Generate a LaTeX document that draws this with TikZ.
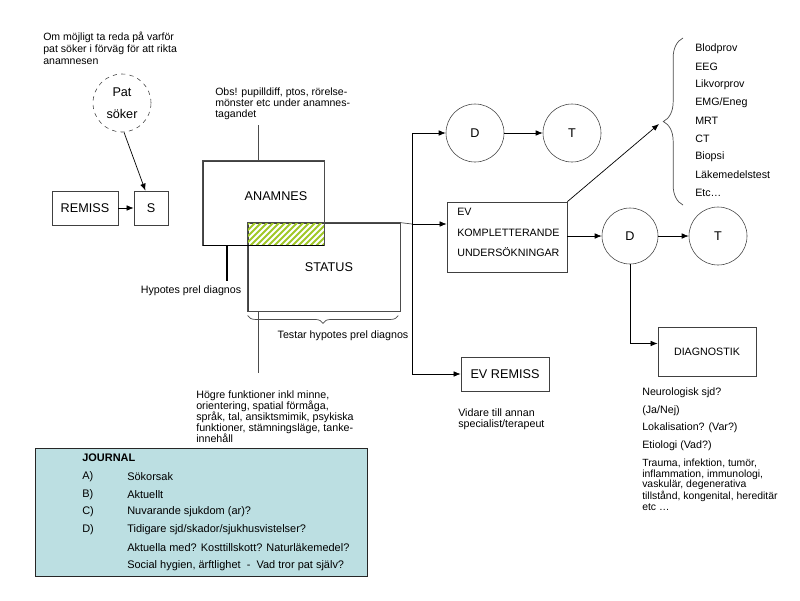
\documentclass[tikz,border=0pt]{standalone}
\usepackage{fontspec}
\setmainfont{Liberation Sans}
\usetikzlibrary{arrows.meta,decorations.pathreplacing}
\definecolor{journalfill}{RGB}{188,223,226}
\definecolor{hatchgreen}{RGB}{160,200,40}

\begin{document}
\begin{tikzpicture}[x=0.025cm,y=-0.025cm,
  small/.style={font=\fontsize{7.6}{8}\selectfont, inner sep=0pt, align=left},
  big/.style={font=\fontsize{9}{11}\selectfont, inner sep=0pt},
  box/.style={draw=black!75, line width=0.5pt, inner sep=0pt, font=\fontsize{9}{11}\selectfont},
  circ/.style={draw=black!75, circle, inner sep=0pt, minimum size=1.45cm, font=\fontsize{9}{11}\selectfont},
  line/.style={draw=black!70, line width=0.5pt},
  arr/.style={draw=black, line width=0.5pt, -{Latex[length=5pt,width=4pt]}}]
\useasboundingbox (0,0) rectangle (800,600);
% Left part: referral
\node[small, anchor=north west, font=\fontsize{7.5}{8.5}\selectfont] (aim) at (43,32)
  {Om möjligt ta reda på varför\\pat söker i förväg för att rikta\\anamnesen};
\node[circ, dashed, align=center, font=\fontsize{9}{16}\selectfont] (pat) at (122,103) {Pat\\söker};
\node[box, minimum width=1.65cm, minimum height=0.85cm] (remiss) at (85,208) {REMISS};
\node[box, minimum width=0.85cm, minimum height=0.85cm] (s) at (151,208) {S};
\draw[arr] (remiss) -- (s);
\draw[arr] (pat.south) ++(2,0) coordinate (patout) -- ([xshift=-4pt]s.north);
% Anamnes and status
\node[box, minimum width=3.025cm, minimum height=2.1cm] (anamnes) at (263.5,203) {};
\node[box, minimum width=3.8cm, minimum height=2.2cm] (status) at (324,267) {};
\begin{scope}
  \clip (status.north west) rectangle (anamnes.south east);
  \foreach \x in {220,226,...,330} \draw[hatchgreen, line width=1.3pt] (\x,246) -- ++(24,-24);
\end{scope}
\draw[line] (status.north west) rectangle (status.south east);
\draw[line] (anamnes.north west) rectangle (anamnes.south east);
\draw[black, line width=1.1pt] (anamnes.south west) -- (anamnes.south east);
\node[big] (anamneslbl) at (276,196) {ANAMNES};
\node[big] (statuslbl) at (329,267) {STATUS};
\node[small, anchor=north west, font=\fontsize{7.5}{7.5}\selectfont] (obs) at (215,88)
  {Obs! pupilldiff, ptos, rörelse-\\mönster etc under anamnes-\\tagandet};
\coordinate (obsend) at (258,125);
\draw[line] (obsend) -- (obsend |- anamnes.north);
\coordinate (hyp) at (227,245);
\draw[black, line width=0.9pt] (hyp) -- ++(0,36);
\node[small] (hypotes) at (191,291) {Hypotes prel diagnos};
\draw[line, decorate, decoration={brace, mirror, amplitude=5.5pt}]
  ([yshift=-3pt]status.south west) -- ([yshift=-3pt, xshift=-1.5pt]status.south east);
\node[small] (testar) at (343,336) {Testar hypotes prel diagnos};
\coordinate (hogreline) at (258,311);
\draw[line] (hogreline) -- ++(0,62);
\node[small, anchor=north west, font=\fontsize{7.6}{7.9}\selectfont] (hogre) at (196,390)
  {Högre funktioner inkl minne,\\orientering, spatial förmåga,\\språk, tal, ansiktsmimik, psykiska\\funktioner, stämningsläge, tanke-\\innehåll};
% Journal
\node[draw=black!85, fill=journalfill, minimum width=8.3cm, minimum height=3.2cm, inner sep=0pt] (journal) at (201,512) {};
\node[small, anchor=west, font=\bfseries\fontsize{7.8}{8}\selectfont] (jtitle) at (82,458) {JOURNAL};
\foreach \l/\t [count=\i] in {A)/Sökorsak, B)/Aktuellt, C)/Nuvarande sjukdom (ar)?, D)/{Tidigare sjd/skador/sjukhusvistelser?}}{
  \node[small, anchor=west, font=\fontsize{7.8}{8}\selectfont] (jkey\i) at (82,459+17.6*\i) {\l};
  \node[small, anchor=west, font=\fontsize{7.8}{8}\selectfont] (jitem\i) at (127,459+17.6*\i) {\t};}
\node[small, anchor=west, font=\fontsize{7.8}{8}\selectfont] (jitem5) at (127,548) {Aktuella med? Kosttillskott? Naturläkemedel?};
\node[small, anchor=west, font=\fontsize{7.8}{8}\selectfont] (jitem6) at (127,566) {Social hygien, ärftlighet \ - \ Vad tror pat själv?};
% Right part: D and T
\coordinate (split) at (412,224);
\node[circ] (d1) at (475,133) {D};
\node[circ] (t1) at (572,133) {T};
\node[box, minimum width=3.0cm, minimum height=1.75cm] (ev) at (507,237) {};
\node[small, anchor=west] (evlbl1) at (457,212) {EV};
\node[small, anchor=west] (evlbl2) at (457,233) {KOMPLETTERANDE};
\node[small, anchor=west] (evlbl3) at (457,252) {UNDERSÖKNINGAR};
\node[box, minimum width=2.2cm, minimum height=0.85cm] (evremiss) at (505,374) {EV REMISS};
\node[small, anchor=north west, font=\fontsize{7.6}{8.5}\selectfont] (vidare) at (458,408)
  {Vidare till annan\\specialist/terapeut};
\draw[line] (status.north east) -- (split);
\draw[arr] (split) -- (split -| ev.west);
\draw[arr] (split) |- (d1.west);
\draw[arr] (split) |- (evremiss.west);
\draw[arr] (d1) -- (t1);
\node[circ, minimum size=1.4cm] (d2) at (630,236) {D};
\node[circ] (t2) at (718,236) {T};
\draw[arr] (ev.east |- d2) -- (d2);
\draw[arr] (d2) -- (t2);
% Tests
\draw[line, decorate, decoration={brace, amplitude=14pt}] (683,205) -- (683,38);
\coordinate (testtip) at (659,124);
\draw[arr] (ev.north east) -- (testtip);
\foreach \t [count=\i] in {Blodprov, EEG, Likvorprov, EMG/Eneg, MRT, CT, Biopsi, Läkemedelstest, Etc…}
  \node[small, anchor=west] (test\i) at (695,31+18*\i) {\t};
% Diagnostik
\node[box, font=\fontsize{7.6}{8}\selectfont, minimum width=2.45cm, minimum height=1.225cm] (diag) at (707,351.5) {DIAGNOSTIK};
\draw[arr] (d2.south) |- ([yshift=5.7pt]diag.west);
\node[small, anchor=west] (diag1) at (642,393) {Neurologisk sjd?};
\node[small, anchor=west] (diag2) at (642,411) {(Ja/Nej)};
\node[small, anchor=west] (diag3) at (642,428) {Lokalisation? (Var?)};
\node[small, anchor=west] (diag4) at (642,446) {Etiologi (Vad?)};
\node[small, anchor=north west, font=\fontsize{7.4}{7.4}\selectfont] (diag5) at (642,459)
  {Trauma, infektion, tumör,\\inflammation, immunologi,\\vaskulär, degenerativa\\tillstånd, kongenital, hereditär\\etc …};
\end{tikzpicture}
\end{document}
